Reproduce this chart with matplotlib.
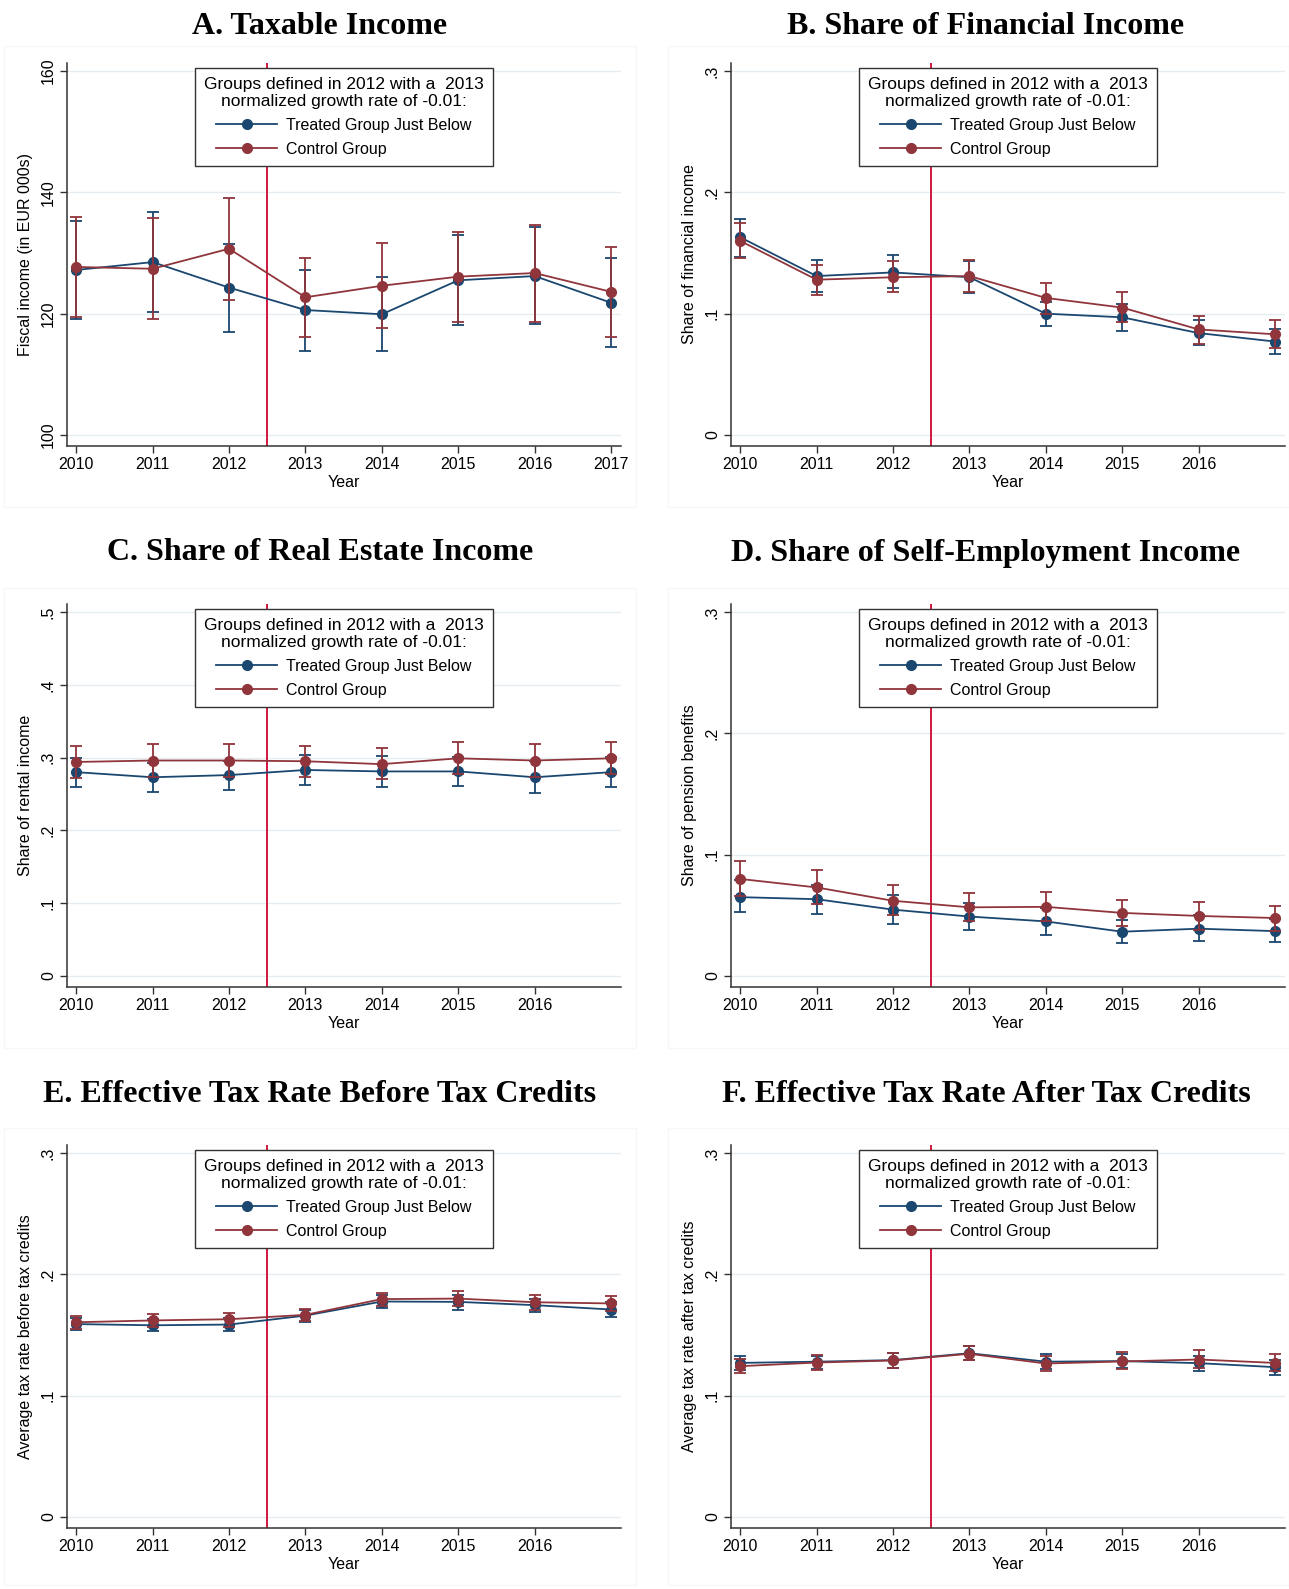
import numpy as np
import matplotlib
matplotlib.use("Agg")
import matplotlib.pyplot as plt
from matplotlib.patches import Rectangle

plt.rcParams['font.family'] = ['Liberation Sans', 'DejaVu Sans']

years = [2010, 2011, 2012, 2013, 2014, 2015, 2016, 2017]

# A. Taxable income
a_treat = [127.2, 128.5, 124.3, 120.6, 119.9, 125.5, 126.2, 121.8]
a_treat_lo = [119.1, 120.3, 116.9, 113.9, 113.9, 118.1, 118.3, 114.5]
a_treat_hi = [135.2, 136.7, 131.5, 127.2, 126.0, 133.0, 134.3, 129.2]
a_ctrl = [127.7, 127.4, 130.7, 122.7, 124.6, 126.1, 126.7, 123.6]
a_ctrl_lo = [119.4, 119.1, 122.2, 116.2, 117.7, 118.7, 118.7, 116.2]
a_ctrl_hi = [135.9, 135.7, 139.1, 129.2, 131.7, 133.4, 134.6, 131.0]

# B. Share of financial income
b_treat = [0.163, 0.131, 0.134, 0.130, 0.100, 0.097, 0.084, 0.077]
b_treat_lo = [0.147, 0.118, 0.121, 0.117, 0.090, 0.086, 0.074, 0.067]
b_treat_hi = [0.178, 0.144, 0.148, 0.143, 0.110, 0.108, 0.095, 0.087]
b_ctrl = [0.160, 0.128, 0.130, 0.131, 0.113, 0.105, 0.087, 0.083]
b_ctrl_lo = [0.146, 0.115, 0.118, 0.118, 0.100, 0.093, 0.075, 0.072]
b_ctrl_hi = [0.175, 0.140, 0.143, 0.144, 0.125, 0.118, 0.098, 0.095]

# C. Share of rental income
c_treat = [0.280, 0.273, 0.276, 0.283, 0.281, 0.281, 0.273, 0.280]
c_treat_lo = [0.260, 0.253, 0.256, 0.262, 0.260, 0.261, 0.252, 0.259]
c_treat_hi = [0.300, 0.293, 0.296, 0.304, 0.302, 0.301, 0.295, 0.301]
c_ctrl = [0.294, 0.296, 0.296, 0.295, 0.291, 0.299, 0.296, 0.299]
c_ctrl_lo = [0.272, 0.274, 0.274, 0.273, 0.270, 0.277, 0.273, 0.277]
c_ctrl_hi = [0.316, 0.318, 0.318, 0.316, 0.313, 0.321, 0.319, 0.322]

# D. Share of pension benefits
d_treat = [0.065, 0.0633, 0.0547, 0.049, 0.045, 0.0365, 0.039, 0.037]
d_treat_lo = [0.0525, 0.051, 0.043, 0.038, 0.034, 0.027, 0.029, 0.028]
d_treat_hi = [0.079, 0.075, 0.067, 0.060, 0.056, 0.046, 0.050, 0.047]
d_ctrl = [0.080, 0.073, 0.062, 0.0566, 0.057, 0.052, 0.0495, 0.0478]
d_ctrl_lo = [0.066, 0.059, 0.050, 0.045, 0.0456, 0.041, 0.038, 0.037]
d_ctrl_hi = [0.095, 0.087, 0.075, 0.068, 0.069, 0.063, 0.061, 0.058]

# E. Average tax rate before tax credits
e_treat = [0.159, 0.158, 0.1586, 0.166, 0.1776, 0.1773, 0.1746, 0.171]
e_treat_lo = [0.154, 0.153, 0.153, 0.1605, 0.172, 0.171, 0.1688, 0.165]
e_treat_hi = [0.164, 0.163, 0.164, 0.171, 0.183, 0.1826, 0.180, 0.1768]
e_ctrl = [0.1605, 0.162, 0.163, 0.1666, 0.1796, 0.180, 0.177, 0.176]
e_ctrl_lo = [0.155, 0.1564, 0.157, 0.1613, 0.1738, 0.1743, 0.171, 0.170]
e_ctrl_hi = [0.1657, 0.1677, 0.1685, 0.1716, 0.1848, 0.1859, 0.1831, 0.182]

# F. Average tax rate after tax credits
f_treat = [0.127, 0.128, 0.1293, 0.135, 0.128, 0.1285, 0.1268, 0.1235]
f_treat_lo = [0.1213, 0.122, 0.123, 0.1293, 0.1218, 0.1224, 0.1204, 0.1169]
f_treat_hi = [0.1326, 0.133, 0.135, 0.1406, 0.1345, 0.134, 0.1329, 0.1293]
f_ctrl = [0.1243, 0.1273, 0.129, 0.1345, 0.1265, 0.1282, 0.1298, 0.127]
f_ctrl_lo = [0.1185, 0.1215, 0.1229, 0.129, 0.1202, 0.1218, 0.1232, 0.1202]
f_ctrl_hi = [0.130, 0.1334, 0.1348, 0.1406, 0.1326, 0.1356, 0.1373, 0.1345]

panels = [
    ("A. Taxable Income", "Fiscal income (in EUR 000s)",
     a_treat, a_treat_lo, a_treat_hi, a_ctrl, a_ctrl_lo, a_ctrl_hi,
     [100, 120, 140, 160], ["100", "120", "140", "160"], years),
    ("B. Share of Financial Income", "Share of financial income",
     b_treat, b_treat_lo, b_treat_hi, b_ctrl, b_ctrl_lo, b_ctrl_hi,
     [0, .1, .2, .3], ["0", ".1", ".2", ".3"], years[:-1]),
    ("C. Share of Real Estate Income", "Share of rental income",
     c_treat, c_treat_lo, c_treat_hi, c_ctrl, c_ctrl_lo, c_ctrl_hi,
     [0, .1, .2, .3, .4, .5], ["0", ".1", ".2", ".3", ".4", ".5"], years[:-1]),
    ("D. Share of Self-Employment Income", "Share of pension benefits",
     d_treat, d_treat_lo, d_treat_hi, d_ctrl, d_ctrl_lo, d_ctrl_hi,
     [0, .1, .2, .3], ["0", ".1", ".2", ".3"], years[:-1]),
    ("E. Effective Tax Rate Before Tax Credits", "Average tax rate before tax credits",
     e_treat, e_treat_lo, e_treat_hi, e_ctrl, e_ctrl_lo, e_ctrl_hi,
     [0, .1, .2, .3], ["0", ".1", ".2", ".3"], years[:-1]),
    ("F. Effective Tax Rate After Tax Credits", "Average tax rate after tax credits",
     f_treat, f_treat_lo, f_treat_hi, f_ctrl, f_ctrl_lo, f_ctrl_hi,
     [0, .1, .2, .3], ["0", ".1", ".2", ".3"], years[:-1]),
]

W, H = 1289, 1589
fig = plt.figure(figsize=(W / 100, H / 100), dpi=100)

navy = "#1a476f"
maroon = "#90353b"
red_line = "#d2163c"

col_left = [67, 731]
row_top = [63, 604, 1145]
ax_w, ax_h = 554, 383
title_y = [27, 553, 1094]
title_x = [320, 986]
region_x = [(4, 636), (668, 1289)]
region_y = [(46, 507), (588, 1048), (1128, 1585)]


def px(l, t, w, h):
    return [l / W, 1 - (t + h) / H, w / W, h / H]


for i, (title, ylabel, tr, tr_lo, tr_hi, ct, ct_lo, ct_hi,
        yt, ytl, xt) in enumerate(panels):
    r, c = divmod(i, 2)
    # faint graph-region frame
    rx0, rx1 = region_x[c]
    ry0, ry1 = region_y[r]
    fig.patches.append(Rectangle((rx0 / W, 1 - ry1 / H), (rx1 - rx0) / W, (ry1 - ry0) / H,
                                 transform=fig.transFigure, fill=False,
                                 edgecolor="#f5f7f9", lw=1.0, zorder=0))

    ax = fig.add_axes(px(col_left[c], row_top[r], ax_w, ax_h))
    span = yt[-1] - yt[0]
    ax.set_ylim(yt[0] - span * 11 / 364, yt[-1] + span * 8 / 364)
    ax.set_xlim(2009.88, 2017.13)

    for v in yt:
        ax.axhline(v, color="#e6edf0", lw=1.0, zorder=0)
    ax.axvline(2012.5, color=red_line, lw=1.4, zorder=1)

    tr = np.array(tr)
    ct = np.array(ct)
    ax.errorbar(years, tr, yerr=[tr - np.array(tr_lo), np.array(tr_hi) - tr],
                fmt="-o", color=navy, lw=1.3, elinewidth=1.3, capsize=4, capthick=1.3,
                ms=7, zorder=3, label="Treated Group Just Below")
    ax.errorbar(years, ct, yerr=[ct - np.array(ct_lo), np.array(ct_hi) - ct],
                fmt="-o", color=maroon, lw=1.3, elinewidth=1.3, capsize=4, capthick=1.3,
                ms=7, zorder=4, label="Control Group")

    ax.set_yticks(yt)
    ax.set_yticklabels(ytl, rotation=90, va="center")
    ax.set_xticks(xt)
    ax.set_xticklabels([str(x) for x in xt])
    ax.tick_params(labelsize=11.5, length=5, width=1.0, color="#333333", pad=3)
    for s in ["top", "right"]:
        ax.spines[s].set_visible(False)
    for s in ["left", "bottom"]:
        ax.spines[s].set_color("#333333")
        ax.spines[s].set_linewidth(1.1)
    ax.set_xlabel("Year", fontsize=11.5, labelpad=2)
    ax.set_ylabel(ylabel, fontsize=11.5, labelpad=6)

    handles, labels = ax.get_legend_handles_labels()
    handles = [h[0] for h in handles]
    leg = ax.legend(handles, labels,
                    title="Groups defined in 2012 with a  2013\nnormalized growth rate of -0.01:",
                    loc="upper center", bbox_to_anchor=(0.5, 0.987), borderaxespad=0,
                    fontsize=11.5, title_fontsize=12.5, frameon=True, fancybox=False,
                    edgecolor="#333333", framealpha=1, handlelength=3.8,
                    borderpad=0.55, labelspacing=0.55, handletextpad=0.6)
    leg.get_frame().set_linewidth(1.0)
    leg.get_title().set_multialignment("center")
    leg._legend_box.align = "center"

    fig.text(title_x[c] / W, 1 - title_y[r] / H, title, ha="center", va="center",
             fontsize=23, fontweight="bold", family="Liberation Serif")

fig.savefig("out.png", dpi=100)
